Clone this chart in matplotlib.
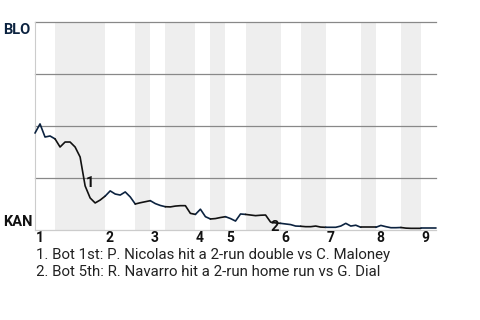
import matplotlib
matplotlib.use("Agg")
import matplotlib.pyplot as plt
from matplotlib.transforms import offset_copy

# ---- data ----
away_team = "BLO"
home_team = "KAN"
# BLO win probability (%) after each plate appearance
win_prob = [46.6, 51.0, 44.7, 45.2, 43.8, 39.9, 42.3, 42.3, 39.9, 35.1,
            21.2, 15.4, 13.0, 14.4, 16.3, 18.8, 17.3, 16.8, 18.3, 15.9,
            12.5, 13.1, 13.6, 14.1, 12.7, 11.8, 11.2, 11.1, 11.5, 11.7,
            11.7, 8.0, 7.5, 10.0, 6.4, 5.3, 5.5, 6.0, 6.4, 5.5,
            4.3, 7.7, 7.5, 7.2, 6.9, 7.1, 7.2, 3.8, 3.4, 3.2,
            2.9, 2.6, 1.9, 1.8, 1.6, 1.6, 1.9, 1.4, 1.3, 1.3,
            1.3, 1.9, 3.2, 1.9, 2.3, 1.3, 1.3, 1.3, 1.3, 2.2,
            1.6, 1.1, 1.1, 1.2, 0.9, 0.8, 0.8, 0.8, 0.8, 0.8, 0.8]
# event index where each half inning starts (last value = end of game)
half_bounds = [0, 4, 14, 20, 23, 26, 32, 35, 38, 42, 49, 53, 58, 65, 68, 73, 77, 80]
inning_labels = ["1", "2", "3", "4", "5", "6", "7", "8", "9"]
event_idx = [10, 47]
event_marks = ["1", "2"]
event_notes = ["1. Bot 1st: P. Nicolas hit a 2-run double vs C. Maloney",
               "2. Bot 5th: R. Navarro hit a 2-run home run vs G. Dial"]

# ---- style ----
plt.rcParams['font.family'] = ['Roboto', 'DejaVu Sans']
NAVY = '#0c2340'
BLACK = '#111111'
W, H = 480, 320
fig = plt.figure(figsize=(4.8, 3.2), dpi=100)
ax = fig.add_axes([35 / W, 1 - 230 / H, (436 - 35) / W, (230 - 22) / H])
ax.set_xlim(half_bounds[0], half_bounds[-1])
ax.set_ylim(0, 100)
for s in ['top', 'right', 'bottom']:
    ax.spines[s].set_visible(False)
ax.spines['left'].set_color('#cccccc')
ax.spines['left'].set_linewidth(0.8)
ax.set_xticks([])
ax.set_yticks([])

# shading of bottom halves
for k in range(len(half_bounds) - 1):
    if k % 2 == 1:
        ax.axvspan(half_bounds[k], half_bounds[k + 1], color='#eeeeee', lw=0, zorder=0)

for gy in [25, 50, 75, 100]:
    ax.axhline(gy, color='#888888', lw=0.9, zorder=1, clip_on=False)
ax.axhline(0, color='#cccccc', lw=0.9, zorder=1, clip_on=False)

# win-probability line, coloured by batting team
for k in range(len(half_bounds) - 1):
    a, b = half_bounds[k], half_bounds[k + 1]
    xs = list(range(a, b + 1))
    ys = win_prob[a:b + 1]
    ax.plot(xs, ys, color=NAVY if k % 2 == 0 else BLACK, lw=1.2,
            solid_joinstyle='round', solid_capstyle='round', zorder=3, clip_on=False)

# event markers
offsets = [(0.7, -0.5), (0.0, -6.5)]
for idx, mark, (dx, dy) in zip(event_idx, event_marks, offsets):
    tr = offset_copy(ax.transData, fig=fig, x=dx, y=dy, units='points')
    ax.text(idx, win_prob[idx], mark, transform=tr, fontsize=10.5,
            fontweight='bold', color=BLACK, ha='left', va='baseline', zorder=4)

# inning labels
xtr = offset_copy(ax.get_xaxis_transform(), fig=fig, x=0.5, y=0, units='points')
for lab, start in zip(inning_labels, half_bounds[0::2]):
    ax.text(start, -12.5 / 208, lab, transform=xtr, fontsize=10,
            fontweight='bold', color=BLACK, ha='left', va='baseline')

# team labels
fig.text(3 / W, 1 - 33.5 / H, away_team, fontsize=10.5, fontweight='bold',
         color=NAVY, ha='left', va='baseline')
fig.text(3 / W, 1 - 226.5 / H, home_team, fontsize=10.5, fontweight='bold',
         color=BLACK, ha='left', va='baseline')

# notes
for i, note in enumerate(event_notes):
    fig.text(36 / W, 1 - (258.5 + 18 * i) / H, note, fontsize=10.8,
             color='#222222', ha='left', va='baseline')

fig.savefig('out.png', dpi=100)
